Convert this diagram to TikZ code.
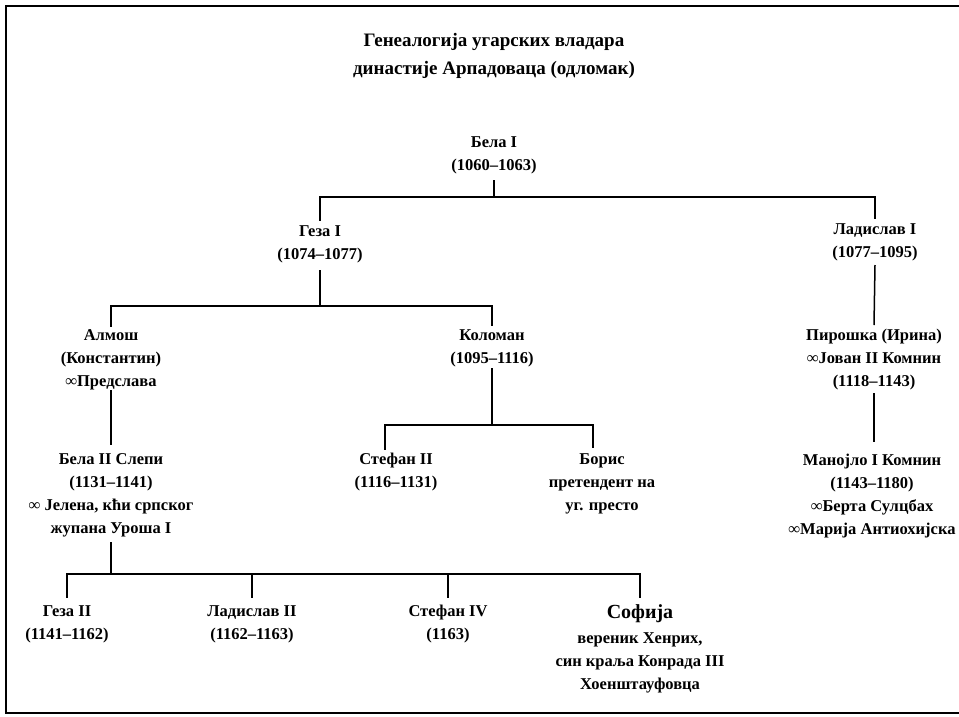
\documentclass[tikz,border=0pt]{standalone}
\usepackage{fontspec}
\setmainfont{Liberation Serif}
\begin{document}
\begin{tikzpicture}[x=1pt,y=-1pt,
  person/.style={align=center,font=\fontsize{16.5}{23}\selectfont\bfseries,inner sep=0pt},
  titlebox/.style={align=center,font=\fontsize{19}{28}\selectfont\bfseries,inner sep=0pt},
  link/.style={line width=1.5pt},
  frame/.style={line width=2.5pt}]
\useasboundingbox (0,0) rectangle (959,716);
\draw[frame] (965,6) -- (6,6) -- (6,713) -- (965,713);

\node[titlebox] (title) at (494,56) {Генеалогија угарских владара\\династије Арпадоваца (одломак)};

\node[person] (bela1) at (494,155) {Бела I\\(1060–1063)};
\node[person] (geza1) at (320,244.5) {Геза I\\(1074–1077)};
\node[person] (lad1) at (875,242.5) {Ладислав I\\(1077–1095)};
\node[person] (almos) at (111,360) {Алмош\\(Константин)\\∞Предслава};
\node[person] (kolo) at (492,348.5) {Коломан\\(1095–1116)};
\node[person] (pir) at (874,360) {Пирошка (Ирина)\\∞Јован II Комнин\\(1118–1143)};
\node[person] (bela2) at (111,495.5) {Бела II Слепи\\(1131–1141)\\∞ Јелена, кћи српског\\жупана Уроша I};
\node[person] (stef2) at (396,472.5) {Стефан II\\(1116–1131)};
\node[person] (boris) at (602,484) {Борис\\претендент на\\уг. престо};
\node[person] (man) at (872,496) {Манојло I Комнин\\(1143–1180)\\∞Берта Сулцбах\\∞Марија Антиохијска};
\node[person] (geza2) at (67,624) {Геза II\\(1141–1162)};
\node[person] (lad2) at (252,624) {Ладислав II\\(1162–1163)};
\node[person] (stef4) at (448,624) {Стефан IV\\(1163)};
\node[person] (sofija) at (640,649) {{\fontsize{20}{24}\selectfont Софија}\\[2pt]вереник Хенрих,\\син краља Конрада III\\Хоенштауфовца};

% Bela I
\draw[link] (bela1.south |- 0,180) -- (bela1.south |- 0,197) -| (geza1.north |- 0,221);
\draw[link] (bela1.south |- 0,197) -| (lad1.north |- 0,219);
% Geza I
\draw[link] (geza1.south |- 0,270) -- (geza1.south |- 0,306) -| (almos.north |- 0,327);
\draw[link] (geza1.south |- 0,306) -| (kolo.north |- 0,326);
% Ladislav I
\draw[link] (lad1.south |- 0,265) -- (pir.north |- 0,325);
% Almos
\draw[link] (almos.south |- 0,390) -- (bela2.north |- 0,445);
% Koloman
\draw[link] (kolo.south |- 0,368) -- (kolo.south |- 0,425) -| ([xshift=-11pt]stef2.north |- 0,450);
\draw[link] (kolo.south |- 0,425) -| ([xshift=-9pt]boris.north |- 0,448);
% Piroska
\draw[link] (pir.south |- 0,393) -- (pir.south |- 0,442);
% Bela II
\draw[link] (bela2.south |- 0,542) -- (bela2.south |- 0,574) -| (geza2.north |- 0,598);
\draw[link] (bela2.south |- 0,574) -| (lad2.north |- 0,598);
\draw[link] (bela2.south |- 0,574) -| (stef4.north |- 0,598);
\draw[link] (bela2.south |- 0,574) -| (sofija.north |- 0,598);
\end{tikzpicture}
\end{document}
